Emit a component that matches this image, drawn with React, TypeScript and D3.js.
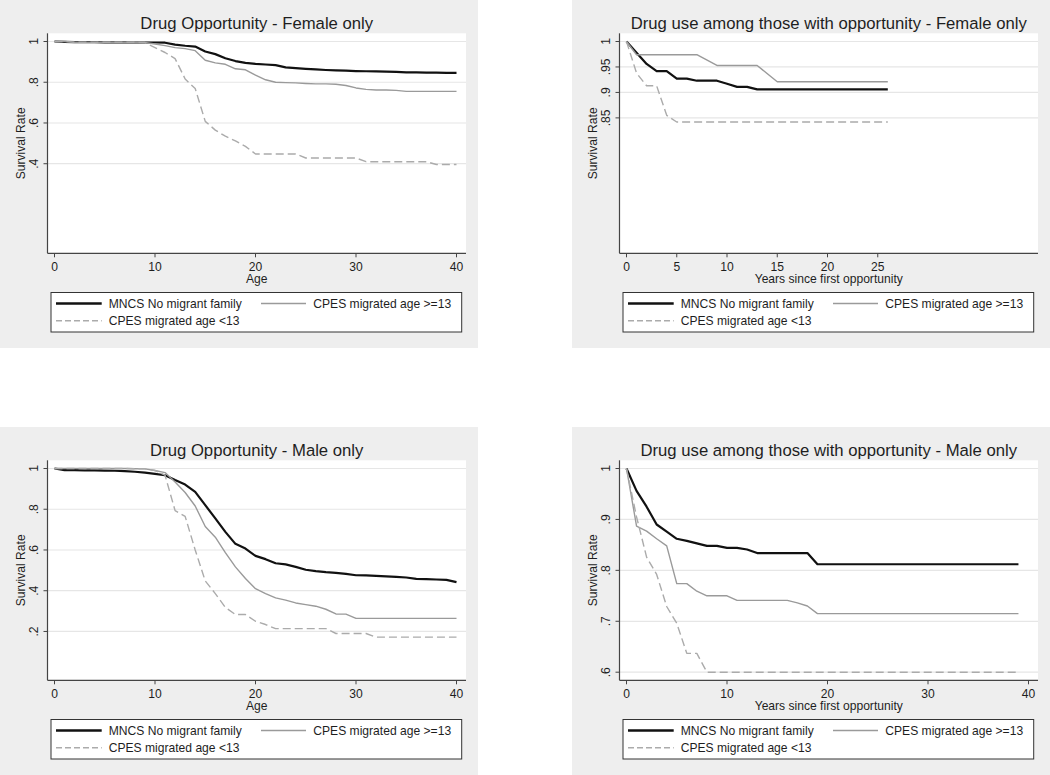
import React from 'react';
import * as d3 from 'd3';

// ---------- data ----------
const ageGrid = [0,1,2,3,4,5,6,7,8,9,10,11,12,13,14,15,16,17,18,19,20,21,22,23,24,25,26,27,28,29,30,31,32,33,34,35,36,37,38,39,40];

// Drug Opportunity - Female only (survival by age)
const femOppMNCS = [1.0,0.998,0.997,0.997,0.997,0.996,0.996,0.996,0.995,0.995,0.995,0.994,0.985,0.979,0.975,0.951,0.938,0.918,0.904,0.895,0.89,0.887,0.884,0.873,0.869,0.866,0.863,0.86,0.858,0.857,0.855,0.854,0.853,0.852,0.851,0.848,0.848,0.847,0.847,0.846,0.846];
const femOppOld = [1.0,1.0,0.996,0.996,0.996,0.996,0.996,0.996,0.996,0.995,0.988,0.98,0.97,0.965,0.955,0.908,0.895,0.888,0.866,0.861,0.835,0.812,0.8,0.798,0.797,0.794,0.792,0.792,0.79,0.784,0.772,0.765,0.762,0.762,0.76,0.755,0.755,0.755,0.755,0.755,0.755];
const femOppYoung = [1.0,1.0,0.996,0.996,0.996,0.996,0.996,0.996,0.996,0.995,0.97,0.946,0.916,0.816,0.769,0.608,0.565,0.535,0.512,0.485,0.448,0.448,0.448,0.448,0.448,0.428,0.428,0.428,0.428,0.428,0.428,0.41,0.41,0.41,0.41,0.41,0.41,0.41,0.396,0.396,0.396];

// Drug Opportunity - Male only
const maleOppMNCS = [1.0,0.992,0.992,0.991,0.991,0.99,0.989,0.987,0.984,0.98,0.974,0.967,0.943,0.921,0.885,0.82,0.755,0.689,0.63,0.607,0.571,0.555,0.535,0.529,0.517,0.503,0.496,0.491,0.488,0.483,0.476,0.475,0.473,0.47,0.468,0.465,0.458,0.457,0.455,0.453,0.442];
const maleOppOld = [1.0,1.0,1.0,1.0,1.0,1.0,1.0,1.0,0.999,0.998,0.99,0.98,0.934,0.882,0.816,0.715,0.663,0.587,0.517,0.46,0.41,0.386,0.365,0.354,0.34,0.332,0.324,0.309,0.286,0.285,0.264,0.264,0.264,0.264,0.264,0.264,0.264,0.264,0.264,0.264,0.264];
const maleOppYoung = [1.0,1.0,1.0,1.0,1.0,1.0,1.0,1.0,0.999,0.998,0.99,0.967,0.793,0.765,0.6,0.448,0.386,0.318,0.283,0.283,0.25,0.234,0.214,0.214,0.214,0.214,0.214,0.214,0.19,0.19,0.19,0.19,0.172,0.172,0.172,0.172,0.172,0.172,0.172,0.172,0.172];

// Drug use among those with opportunity - Female only (years since first opportunity)
const femUseMNCSYears = [0,1,2,3,4,5,6,7,8,9,10,11,12,13,26];
const femUseMNCS = [1.0,0.978,0.956,0.942,0.942,0.927,0.927,0.923,0.923,0.923,0.917,0.911,0.911,0.906,0.906];
const femUseOldYears = [0,1,7,9,13,15,26];
const femUseOld = [1.0,0.974,0.974,0.953,0.953,0.921,0.921];
const femUseYoungYears = [0,1,2,3,4,5,26];
const femUseYoung = [1.0,0.938,0.913,0.913,0.855,0.842,0.842];

// Drug use among those with opportunity - Male only
const maleUseMNCSYears = [0,1,2,3,4,5,6,7,8,9,10,11,12,13,18,19,39];
const maleUseMNCS = [1.0,0.956,0.925,0.89,0.876,0.862,0.858,0.853,0.848,0.848,0.844,0.844,0.841,0.834,0.834,0.812,0.812];
const maleUseOldYears = [0,1,2,3,4,5,6,7,8,10,11,16,17,18,19,39];
const maleUseOld = [1.0,0.887,0.877,0.862,0.848,0.774,0.774,0.759,0.75,0.75,0.741,0.741,0.736,0.73,0.715,0.715];
const maleUseYoungYears = [0,1,2,3,4,5,6,7,8,39];
const maleUseYoung = [1.0,0.905,0.826,0.792,0.729,0.696,0.637,0.637,0.6,0.6];

// axes
const ageTicks = [0,10,20,30,40];
const yearTicksFemale = [0,5,10,15,20,25];
const yearTicksMale = [0,10,20,30,40];
const oppYTicks = [1,0.8,0.6,0.4];
const oppYTicksMale = [1,0.8,0.6,0.4,0.2];
const useYTicksFemale = [1,0.95,0.9,0.85];
const useYTicksMale = [1,0.9,0.8,0.7,0.6];

const seriesNames = ['MNCS No migrant family', 'CPES migrated age >=13', 'CPES migrated age <13'];

// ---------- styles ----------
const FONT = '"Liberation Sans", Arial, Helvetica, sans-serif';
const TXT = '#1e1e1e';
const styles = [
  { stroke: '#111111', width: 2.2, dash: undefined as string | undefined, legendWidth: 2.6 },
  { stroke: '#9a9a9a', width: 1.4, dash: undefined as string | undefined, legendWidth: 1.4 },
  { stroke: '#ababab', width: 1.4, dash: '8,4', legendWidth: 1.4 },
];

const PW = 478, PH = 348;
const PL = 47.5, PR = 466, PT = 33.3, PB = 253.3;

function zip(xs: number[], ys: number[]): [number, number][] {
  return xs.map((v, i) => [v, ys[i]]);
}

function fmt(v: number) {
  return String(v).replace(/^0\./, '.');
}

type PanelProps = {
  ox: number; oy: number; title: string; xTitle: string;
  xTicks: number[]; yTicks: number[]; yDomain: [number, number];
  series: [number, number][][];
};

function Panel({ ox, oy, title, xTitle, xTicks, yTicks, yDomain, series }: PanelProps) {
  const x = d3.scaleLinear().domain([0, 40]).range([54.5, 456.5]);
  const y = d3.scaleLinear().domain(yDomain).range([245.2, 41.5]);
  const line = d3.line<[number, number]>().x(d => x(d[0])).y(d => y(d[1]));
  const cx = (PL + PR) / 2;
  const lx = 51, lw = 410.7, ly = 292.5, lh = 39.5;
  const legendPos = [
    { x1: 56, x2: 101.7, tx: 108.7, y: 303.5 },
    { x1: 261, x2: 306, tx: 313.3, y: 303.5 },
    { x1: 56, x2: 101.7, tx: 108.7, y: 320.7 },
  ];
  return (
    <g transform={`translate(${ox},${oy})`}>
      <rect x={0} y={0} width={PW} height={PH} fill="#eeeeee" />
      <rect x={PL} y={PT} width={PR - PL} height={PB - PT} fill="#ffffff" />
      {yTicks.map(t => (
        <line key={'g' + t} x1={PL} x2={PR} y1={y(t)} y2={y(t)} stroke="#e6e6e6" strokeWidth={1.2} />
      ))}
      {series.map((s, i) => (
        <path key={'s' + i} d={line(s) || ''} fill="none" stroke={styles[i].stroke}
          strokeWidth={styles[i].width} strokeDasharray={styles[i].dash} strokeLinejoin="round" />
      ))}
      <line x1={PL} x2={PL} y1={PT} y2={PB} stroke="#444" strokeWidth={1.2} />
      <line x1={PL} x2={PR} y1={PB} y2={PB} stroke="#444" strokeWidth={1.2} />
      {yTicks.map(t => (
        <g key={'yt' + t}>
          <line x1={PL - 4} x2={PL} y1={y(t)} y2={y(t)} stroke="#444" strokeWidth={1} />
          <text transform={`translate(38.3,${y(t)}) rotate(-90)`} textAnchor="middle"
            fontFamily={FONT} fontSize={12.1} fill={TXT}>{fmt(t)}</text>
        </g>
      ))}
      {xTicks.map(t => (
        <g key={'xt' + t}>
          <line x1={x(t)} x2={x(t)} y1={PB} y2={PB + 4} stroke="#444" strokeWidth={1} />
          <text x={x(t)} y={271.2} textAnchor="middle" fontFamily={FONT} fontSize={12.1} fill={TXT}>{fmt(t)}</text>
        </g>
      ))}
      <text x={cx} y={283} textAnchor="middle" fontFamily={FONT} fontSize={12.1} fill={TXT}>{xTitle}</text>
      <text transform={`translate(25,${(PT + PB) / 2}) rotate(-90)`} textAnchor="middle"
        fontFamily={FONT} fontSize={12.1} fill={TXT}>Survival Rate</text>
      <text x={cx} y={29.3} textAnchor="middle" fontFamily={FONT} fontSize={16.7} fill={TXT}>{title}</text>
      <rect x={lx} y={ly} width={lw} height={lh} fill="#ffffff" stroke="#333" strokeWidth={1} />
      {legendPos.map((p, i) => (
        <g key={'l' + i}>
          <line x1={p.x1} x2={p.x2} y1={p.y} y2={p.y} stroke={styles[i].stroke}
            strokeWidth={styles[i].legendWidth} strokeDasharray={styles[i].dash ? '6,3' : undefined} />
          <text x={p.tx} y={p.y + 4.3} fontFamily={FONT} fontSize={12.1} fill={TXT}>{seriesNames[i]}</text>
        </g>
      ))}
    </g>
  );
}

export default function App() {
  return (
    <svg width={1050} height={775} style={{ position: 'absolute', left: 0, top: 0, background: '#ffffff' }}>
      <rect x={0} y={0} width={1050} height={775} fill="#ffffff" />
      <Panel ox={0} oy={0} title="Drug Opportunity - Female only" xTitle="Age"
        xTicks={ageTicks} yTicks={oppYTicks} yDomain={[0, 1]}
        series={[zip(ageGrid, femOppMNCS), zip(ageGrid, femOppOld), zip(ageGrid, femOppYoung)]} />
      <Panel ox={572} oy={0} title="Drug use among those with opportunity - Female only" xTitle="Years since first opportunity"
        xTicks={yearTicksFemale} yTicks={useYTicksFemale} yDomain={[0.6, 1]}
        series={[zip(femUseMNCSYears, femUseMNCS), zip(femUseOldYears, femUseOld), zip(femUseYoungYears, femUseYoung)]} />
      <Panel ox={0} oy={427} title="Drug Opportunity - Male only" xTitle="Age"
        xTicks={ageTicks} yTicks={oppYTicksMale} yDomain={[0, 1]}
        series={[zip(ageGrid, maleOppMNCS), zip(ageGrid, maleOppOld), zip(ageGrid, maleOppYoung)]} />
      <Panel ox={572} oy={427} title="Drug use among those with opportunity - Male only" xTitle="Years since first opportunity"
        xTicks={yearTicksMale} yTicks={useYTicksMale} yDomain={[0.6, 1]}
        series={[zip(maleUseMNCSYears, maleUseMNCS), zip(maleUseOldYears, maleUseOld), zip(maleUseYoungYears, maleUseYoung)]} />
    </svg>
  );
}
